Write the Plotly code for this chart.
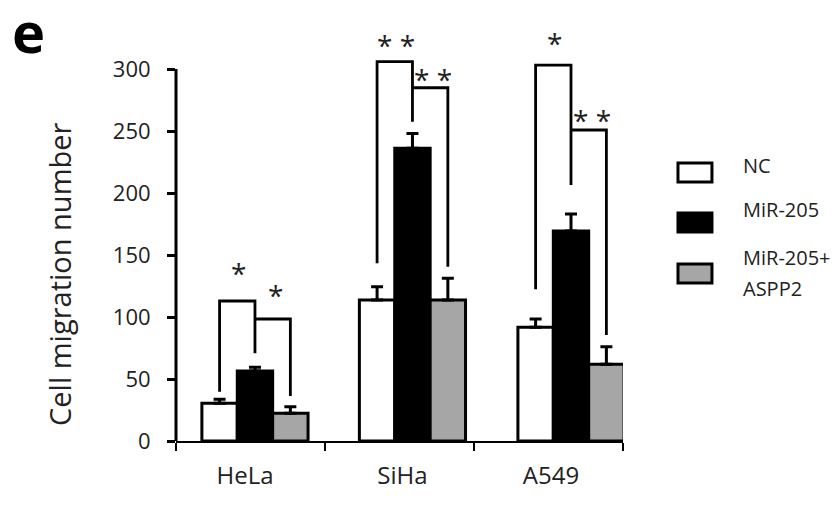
import plotly.graph_objects as go

# ---- data ----
cell_lines = ["HeLa", "SiHa", "A549"]
series_names = ["NC", "MiR-205", "MiR-205+ASPP2"]
nc_vals = [30.4, 113.7, 91.7]
mir_vals = [56.5, 236.0, 169.4]
aspp2_vals = [22.3, 113.7, 61.8]
nc_err = [3.2, 10.7, 6.7]
mir_err = [3.0, 12.0, 13.7]
aspp2_err = [5.4, 17.5, 14.2]
y_ticks = [0, 50, 100, 150, 200, 250, 300]

# significance brackets (per cell line): labels and heights in data units
sig1_labels = ["*", "* *", "*"]
sig2_labels = ["*", "* *", "* *"]
br1_top = [112.9, 305.9, 303.2]
br1_left_bottom = [39.8, 143.3, 122.3]
br1_right_bottom = [70.7, 257.5, 206.5]
br2_top = [98.4, 284.9, 250.8]
br2_right_bottom = [36.3, 140.6, 85.5]
sig1_y = [140.6, 324.2, 325.6]
sig2_y = [122.3, 296.5, 263.5]

# ---- layout constants ----
group_pos = [0.530, 1.587, 2.651]
label_pos = [0.463, 1.520, 2.517]
bar_w = 0.2375
offsets = [-1.5 * bar_w, -0.5 * bar_w, 0.5 * bar_w]
fills = ["white", "black", "#a6a6a6"]
FONT = "Open Sans"
TXT = "#222222"

fig = go.Figure()
for vals, errs, name, off, col in zip(
    [nc_vals, mir_vals, aspp2_vals], [nc_err, mir_err, aspp2_err],
    series_names, offsets, fills):
    fig.add_trace(go.Bar(
        x=group_pos, y=vals, name=name, width=bar_w, offset=off,
        marker=dict(color=col, line=dict(color="black", width=3)),
        error_y=dict(type="data", symmetric=False, array=errs,
                     arrayminus=[0] * len(errs), thickness=3, width=6,
                     color="black"),
        showlegend=False))

shapes = []
annotations = []
for g in range(len(cell_lines)):
    c0 = group_pos[g] + offsets[0] + bar_w / 2
    c1 = group_pos[g] + offsets[1] + bar_w / 2
    c2 = group_pos[g] + offsets[2] + bar_w / 2
    path1 = f"M {c0},{br1_left_bottom[g]} L {c0},{br1_top[g]} L {c1},{br1_top[g]} L {c1},{br1_right_bottom[g]}"
    path2 = f"M {c1},{br2_top[g]} L {c2},{br2_top[g]} L {c2},{br2_right_bottom[g]}"
    for p in (path1, path2):
        shapes.append(dict(type="path", path=p, xref="x", yref="y",
                           line=dict(color="black", width=2.8)))
    annotations.append(dict(x=(c0 + c1) / 2 + 0.01, y=sig1_y[g], xref="x", yref="y",
                            text=sig1_labels[g], showarrow=False, yshift=-6,
                            font=dict(family=FONT, size=28, color=TXT)))
    annotations.append(dict(x=(c1 + c2) / 2 + 0.02, y=sig2_y[g], xref="x", yref="y",
                            text=sig2_labels[g], showarrow=False, yshift=-6,
                            font=dict(family=FONT, size=28, color=TXT)))

# y axis line (only up to 300)
shapes.append(dict(type="line", xref="paper", yref="y", x0=0, x1=0, y0=0, y1=300,
                   line=dict(color="black", width=3)))

# legend (manual)
leg_boxes = [(0.6286, 0.6748), (0.5073, 0.5534), (0.3835, 0.4296)]
for (y0, y1), col in zip(leg_boxes, fills):
    shapes.append(dict(type="rect", xref="paper", yref="paper", x0=1.123, x1=1.199,
                       y0=y0, y1=y1, fillcolor=col, line=dict(color="black", width=3)))
leg_texts = [("NC", 0.6699), ("MiR-205", 0.5631), ("MiR-205+", 0.4454), ("ASPP2", 0.3694)]
for t, y in leg_texts:
    annotations.append(dict(x=1.264, y=y, xref="paper", yref="paper", text=t,
                            showarrow=False, xanchor="left", yanchor="middle",
                            font=dict(family=FONT, size=20, color=TXT)))

# y-axis title
annotations.append(dict(x=-0.2595, y=0.403, xref="paper", yref="paper",
                        text="Cell migration number", textangle=-90, showarrow=False,
                        xanchor="center", yanchor="middle",
                        font=dict(family=FONT, size=29, color=TXT)))
# panel letter
annotations.append(dict(x=-0.372, y=0.995, xref="paper", yref="paper", text="<b>e</b>",
                        showarrow=False, xanchor="left", yanchor="middle",
                        font=dict(family=FONT, size=56, color="black")))

# page body has an 8px margin: size the figure so the plot lands at the right spot
fig.update_layout(
    width=831, height=497,
    margin=dict(l=168, r=216, t=21, b=64),
    paper_bgcolor="white", plot_bgcolor="white",
    barmode="overlay",
    shapes=shapes, annotations=annotations,
    font=dict(family=FONT, color=TXT),
    xaxis=dict(range=[0, 3], showgrid=False, zeroline=False,
               showline=True, linecolor="black", linewidth=1.5,
               tickmode="array", tickvals=label_pos, ticktext=cell_lines,
               ticks="", ticklabelstandoff=12,
               tickfont=dict(family=FONT, size=24, color=TXT),
               minor=dict(tickmode="array", tickvals=[0, 1, 2, 3], ticks="outside",
                          ticklen=8, tickwidth=1.5, tickcolor="black", showgrid=False)),
    yaxis=dict(range=[0, 332.26], showgrid=False, zeroline=False, showline=False,
               tickmode="array", tickvals=y_ticks, ticks="outside", ticklen=8,
               tickwidth=3, tickcolor="black", ticklabelstandoff=12,
               tickfont=dict(family=FONT, size=22, color=TXT)),
)

fig.write_html("out.html")
